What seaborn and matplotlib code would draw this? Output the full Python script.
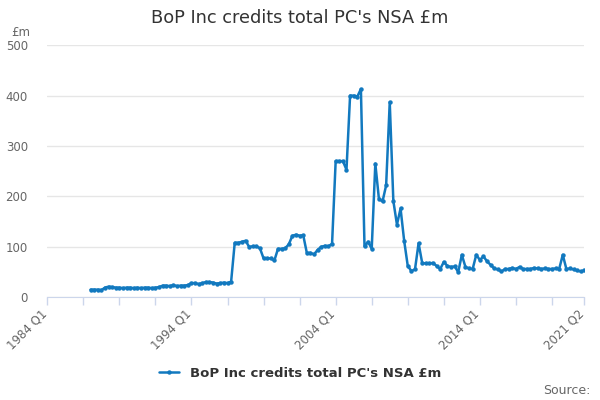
import numpy as np
import pandas as pd
import matplotlib
matplotlib.use("Agg")
import matplotlib.pyplot as plt
import matplotlib.transforms as mtrans
import seaborn as sns

# quarterly series, first value is 1987 Q1
start_label = "1987 Q1"
credits = [
    15, 15, 15, 14, 19, 21, 20, 19, 19, 18, 19, 19, 18, 19, 18, 19, 19, 18, 19, 20,
    23, 23, 22, 24, 22, 23, 23, 24, 28, 28, 26, 28, 30, 30, 29, 27, 28, 29, 28, 31,
    108, 108, 110, 112, 100, 101, 101, 97, 77, 77, 77, 73, 96, 96, 97, 105,
    122, 124, 122, 123, 88, 88, 85, 94, 100, 102, 101, 106,
    270, 270, 270, 253, 400, 400, 398, 413,
    101, 110, 96, 265, 195, 190, 222, 387, 191, 144, 176, 112, 62, 52, 55, 107,
    68, 67, 67, 68, 62, 56, 70, 62, 60, 61, 50, 84, 60, 57, 56, 84,
    74, 81, 71, 64, 57, 55, 51, 56, 56, 58, 56, 60, 56, 56, 56, 58,
    57, 56, 57, 56, 56, 57, 56, 84, 56, 57, 55, 53, 51, 53,
]
series_name = "BoP Inc credits total PC's NSA £m"
shown_labels = ["1984 Q1", "1994 Q1", "2004 Q1", "2014 Q1", "2021 Q2"]

# full quarter axis 1984 Q1 .. 2021 Q2
quarters = [f"{y} Q{q}" for y in range(1984, 2022) for q in range(1, 5)]
quarters = quarters[:quarters.index("2021 Q2") + 1]
first = quarters.index(start_label)
df = pd.DataFrame({"pos": range(first, first + len(credits)), "value": credits})

sns.set_style("white")
plt.rcParams["font.family"] = ["DejaVu Sans"]

fig = plt.figure(figsize=(6, 4), dpi=100)
ax = fig.add_axes([0.0788, 0.257, 0.974 - 0.0788, 0.887 - 0.257])

line_col = "#1279bf"
sns.lineplot(data=df, x="pos", y="value", ax=ax, color=line_col, linewidth=1.8,
             marker="o", markersize=3.2, markeredgewidth=0, label=series_name)

ax.set_xlim(0, len(quarters) - 1)
ax.set_ylim(0, 500)
ax.set_yticks([0, 100, 200, 300, 400, 500])
ax.yaxis.grid(True, color="#e6e6e6", linewidth=1)
ax.xaxis.grid(False)
ax.set_axisbelow(True)
for s in ["top", "right", "left"]:
    ax.spines[s].set_visible(False)
ax.spines["bottom"].set_color("#ccd6eb")

# ticks every 10 quarters plus the last one, labels on a few
tick_pos = list(range(0, len(quarters), 10)) + [len(quarters) - 1]
ax.set_xticks(tick_pos)
ax.set_xticklabels([quarters[p] if quarters[p] in shown_labels else "" for p in tick_pos],
                   rotation=45, ha="right", rotation_mode="anchor")
ax.tick_params(axis="x", colors="#ccd6eb", length=6, width=1, direction="out", pad=3,
               bottom=True, labelcolor="#666666", labelsize=8.5)
ax.tick_params(axis="y", length=0, pad=14, labelcolor="#666666", labelsize=8.5)
shift = mtrans.ScaledTranslation(-5 / 72, 2 / 72, fig.dpi_scale_trans)
for lab in ax.get_xticklabels():
    lab.set_transform(lab.get_transform() + shift)
ax.set_xlabel("")
ax.set_ylabel("")

fig.text(0.5, 0.955, series_name, ha="center", va="center", fontsize=12.8, color="#333333")
fig.text(0.05, 0.918, "£m", ha="right", va="center", fontsize=8.5, color="#666666")
fig.text(0.985, 0.025, "Source:", ha="right", va="center", fontsize=9, color="#666666")

ax.legend(loc="center", bbox_to_anchor=(0.5, 0.066), bbox_transform=fig.transFigure,
          frameon=False, prop={"weight": "bold", "size": 9.5}, handlelength=1.5,
          labelcolor="#333333")

fig.savefig("out.png", dpi=100)
